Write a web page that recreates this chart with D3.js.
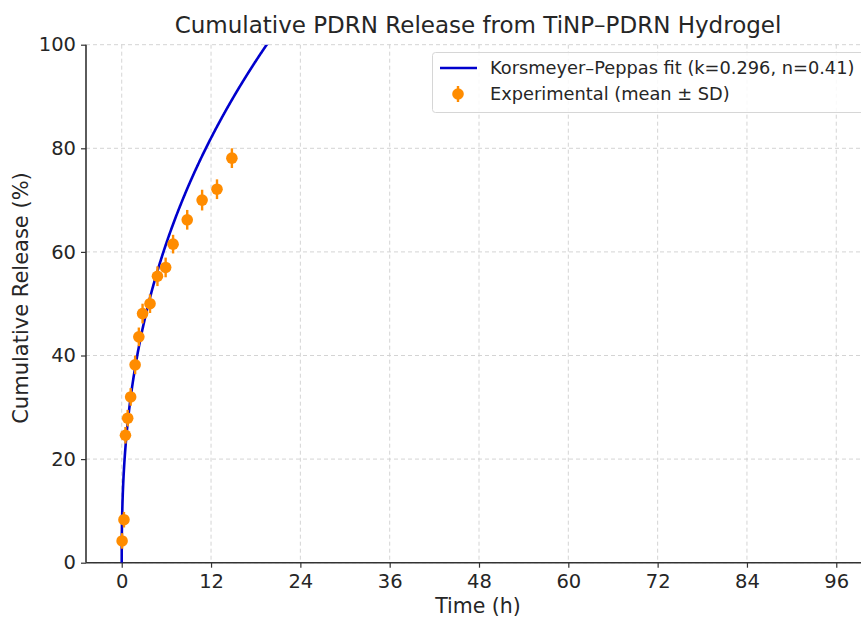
<!DOCTYPE html>
<html>
<head>
<meta charset="utf-8">
<script src="https://cdn.jsdelivr.net/npm/d3@7"></script>
<style>
  body { margin: 0; background: #fff; }
  svg { font-family: "DejaVu Sans", sans-serif; }
</style>
</head>
<body>
<div id="chart"></div>
<script>
// experimental points
var times   = [0.05, 0.3, 0.5, 0.8, 1.2, 1.8, 2.3, 2.8, 3.8, 4.8, 5.9, 6.9, 8.8, 10.8, 12.8, 14.8];
var release = [4.2, 8.3, 24.6, 27.9, 32.0, 38.2, 43.6, 48.1, 50.0, 55.3, 57.0, 61.5, 66.2, 70.0, 72.1, 78.1];
var sd      = [1.5, 1.5, 1.6, 1.6, 1.7, 1.8, 1.8, 1.9, 1.8, 1.9, 1.9, 1.8, 1.9, 2.0, 1.9, 1.9];

// fit parameters shown in the legend
var kFit = 0.296, nFit = 0.41;

var xTicks = [0, 12, 24, 36, 48, 60, 72, 84, 96];
var yTicks = [0, 20, 40, 60, 80, 100];

var W = 861, H = 617;
var pLeft = 86, pTop = 44.7, pBottom = 562.7, pRight = 872;

var svg = d3.select("#chart").append("svg")
    .attr("width", W)
    .attr("height", H);

var x = d3.scaleLinear().domain([-4.8, 100.8]).range([pLeft, pRight]);
var y = d3.scaleLinear().domain([0, 100]).range([pBottom, pTop]);

svg.append("defs").append("clipPath").attr("id", "plotclip")
   .append("rect")
   .attr("x", pLeft).attr("y", pTop)
   .attr("width", pRight - pLeft).attr("height", pBottom - pTop);

// grid
var grid = svg.append("g").attr("stroke", "#cfcfcf").attr("stroke-width", 0.9)
    .attr("stroke-dasharray", "4,3");
grid.selectAll(".gx").data(xTicks).enter().append("line")
    .attr("x1", d => x(d)).attr("x2", d => x(d))
    .attr("y1", pTop).attr("y2", pBottom);
grid.selectAll(".gy").data(yTicks).enter().append("line")
    .attr("x1", pLeft).attr("x2", pRight)
    .attr("y1", d => y(d)).attr("y2", d => y(d));

// axes
var xAxis = svg.append("g")
    .attr("transform", "translate(0," + pBottom + ")")
    .call(d3.axisBottom(x).tickValues(xTicks).tickSize(5).tickPadding(6));
var yAxis = svg.append("g")
    .attr("transform", "translate(" + pLeft + ",0)")
    .call(d3.axisLeft(y).tickValues(yTicks).tickSize(5).tickPadding(5));

[xAxis, yAxis].forEach(function(a) {
  a.select(".domain").attr("stroke", "#333").attr("stroke-width", 1.6);
  a.selectAll(".tick line").attr("stroke", "#333").attr("stroke-width", 1.2);
  a.selectAll(".tick text").attr("fill", "#262626")
   .attr("font-family", "DejaVu Sans").attr("font-size", "19.5px");
});
// spines without the outer tick stubs
xAxis.select(".domain").attr("d", "M" + pLeft + ",0H" + pRight);
yAxis.select(".domain").attr("d", "M0," + pBottom + "V" + pTop);

// fit curve
var tFit = d3.range(0, 0.05, 0.0005).concat(d3.range(0.05, 101, 0.05));
var line = d3.line()
    .x(d => x(d))
    .y(d => y(kFit * Math.pow(d, nFit) * 100));
svg.append("path")
   .datum(tFit)
   .attr("clip-path", "url(#plotclip)")
   .attr("fill", "none")
   .attr("stroke", "#0000cd")
   .attr("stroke-width", 2.6)
   .attr("d", line);

// experimental points with error bars
var pts = svg.append("g");
pts.selectAll(".err").data(times).enter().append("line")
   .attr("x1", d => x(d)).attr("x2", d => x(d))
   .attr("y1", (d, i) => y(release[i] - sd[i]))
   .attr("y2", (d, i) => y(release[i] + sd[i]))
   .attr("stroke", "#ff8c00").attr("stroke-width", 2.4);
pts.selectAll(".dot").data(times).enter().append("circle")
   .attr("cx", d => x(d))
   .attr("cy", (d, i) => y(release[i]))
   .attr("r", 5.8)
   .attr("fill", "#ff8c00");

// title and labels
svg.append("text")
   .attr("x", 478).attr("y", 33)
   .attr("text-anchor", "middle")
   .attr("font-size", "23px").attr("fill", "#262626")
   .text("Cumulative PDRN Release from TiNP\u2013PDRN Hydrogel");

svg.append("text")
   .attr("x", 478).attr("y", 613)
   .attr("text-anchor", "middle")
   .attr("font-size", "20.5px").attr("fill", "#262626")
   .text("Time (h)");

svg.append("text")
   .attr("transform", "translate(28,298) rotate(-90)")
   .attr("text-anchor", "middle")
   .attr("font-size", "21px").attr("fill", "#262626")
   .text("Cumulative Release (%)");

// legend
var lg = svg.append("g");
lg.append("rect")
  .attr("x", 432.5).attr("y", 52.5)
  .attr("width", 445).attr("height", 60)
  .attr("rx", 3)
  .attr("fill", "rgba(255,255,255,0.85)")
  .attr("stroke", "#d6d6d6");
lg.append("line")
  .attr("x1", 440).attr("x2", 477).attr("y1", 68).attr("y2", 68)
  .attr("stroke", "#0000cd").attr("stroke-width", 2.6);
lg.append("line")
  .attr("x1", 458).attr("x2", 458).attr("y1", 86).attr("y2", 102)
  .attr("stroke", "#ff8c00").attr("stroke-width", 2.4);
lg.append("circle")
  .attr("cx", 458).attr("cy", 94).attr("r", 5.8).attr("fill", "#ff8c00");
lg.append("text")
  .attr("x", 490).attr("y", 74)
  .attr("font-size", "17.8px").attr("fill", "#262626")
  .text("Korsmeyer\u2013Peppas fit (k=0.296, n=0.41)");
lg.append("text")
  .attr("x", 490).attr("y", 100)
  .attr("font-size", "17.8px").attr("fill", "#262626")
  .text("Experimental (mean \u00b1 SD)");
</script>
</body>
</html>
